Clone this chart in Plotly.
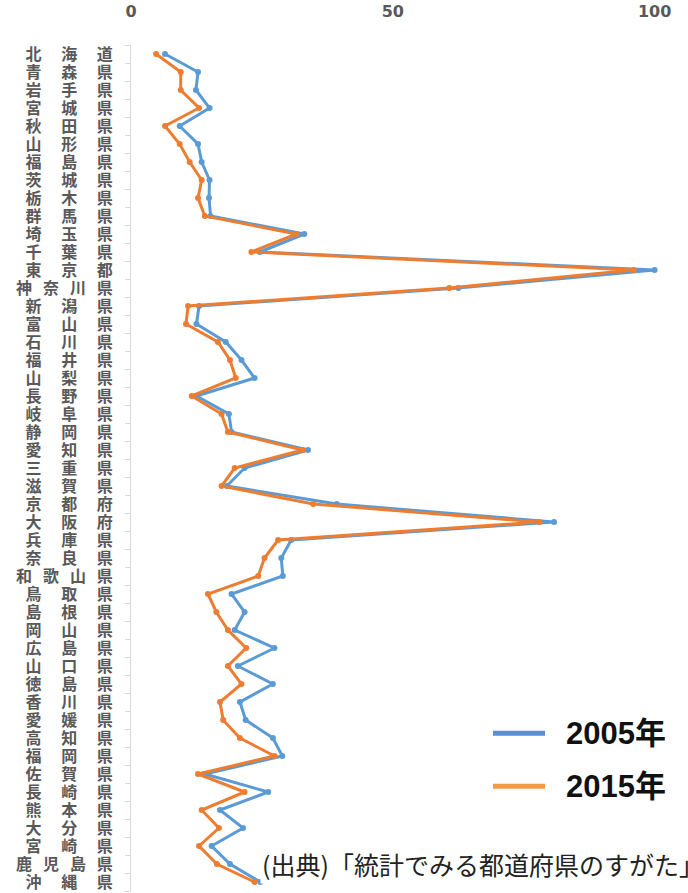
import plotly.graph_objects as go

# 都道府県（北から順）
prefectures = [
    "北海道", "青森県", "岩手県", "宮城県", "秋田県", "山形県", "福島県",
    "茨城県", "栃木県", "群馬県", "埼玉県", "千葉県", "東京都", "神奈川県",
    "新潟県", "富山県", "石川県", "福井県", "山梨県", "長野県", "岐阜県",
    "静岡県", "愛知県", "三重県", "滋賀県", "京都府", "大阪府", "兵庫県",
    "奈良県", "和歌山県", "鳥取県", "島根県", "岡山県", "広島県", "山口県",
    "徳島県", "香川県", "愛媛県", "高知県", "福岡県", "佐賀県", "長崎県",
    "熊本県", "大分県", "宮崎県", "鹿児島県", "沖縄県",
]

values_2005 = [
    6.5, 12.8, 12.4, 15.0, 9.3, 12.8, 13.5, 15.0, 14.9, 15.2,
    33.1, 24.6, 100.0, 62.5, 13.0, 12.5, 18.1, 21.1, 23.6, 12.5,
    18.7, 19.2, 33.8, 21.7, 18.3, 39.3, 80.8, 30.6, 28.7, 29.0,
    19.2, 21.7, 19.8, 27.4, 20.4, 27.1, 20.8, 21.9, 27.1, 28.9,
    14.1, 26.2, 17.0, 21.4, 15.4, 18.9, 24.7,
]

values_2015 = [
    4.8, 9.5, 9.5, 13.0, 6.5, 9.3, 11.2, 13.5, 12.8, 14.1,
    31.6, 23.0, 96.0, 60.8, 10.9, 10.5, 16.6, 18.9, 20.0, 11.6,
    17.3, 18.5, 32.8, 19.8, 17.3, 34.8, 78.0, 28.1, 25.5, 24.3,
    14.7, 16.3, 18.5, 22.0, 18.5, 21.1, 17.0, 17.6, 20.8, 27.4,
    12.8, 21.7, 13.5, 16.8, 13.0, 16.4, 23.6,
]

x_ticks = [0, 50, 100]
series_names = ["2005年", "2015年"]
source_note = "(出典)「統計でみる都道府県のすがた」"

BLUE = "#5B9BD5"
ORANGE = "#ED7D31"
LEGEND_BLUE = "#5A8FD6"
LEGEND_ORANGE = "#F39A48"
GRAY = "#595959"

W, H = 688, 893
M_L, M_R, M_T, M_B = 131, 2, 45, 0
PLOT_W = W - M_L - M_R
PLOT_H = H - M_T - M_B


def px_to_paper(px, py):
    return (px - M_L) / PLOT_W, (H - M_B - py) / PLOT_H


def spaced(name):
    # spread each name across the same label width
    gap = "\u3000\u00a0" if len(name) == 3 else "\u00a0\u00a0\u00a0"
    return gap.join(name)


fig = go.Figure()
for name, vals, color in [(series_names[0], values_2005, BLUE),
                          (series_names[1], values_2015, ORANGE)]:
    fig.add_trace(go.Scatter(
        x=vals, y=prefectures, name=name, mode="lines+markers",
        line=dict(color=color, width=3),
        marker=dict(color=color, size=6),
        showlegend=False,
    ))

# legend drawn as line samples with labels
shapes, annotations = [], []
for i, (name, color) in enumerate(zip(series_names, [LEGEND_BLUE, LEGEND_ORANGE])):
    y_px = 735 + 53 * i
    x0, y0 = px_to_paper(493, y_px)
    x1, _ = px_to_paper(545, y_px)
    shapes.append(dict(type="line", xref="paper", yref="paper",
                       x0=x0, x1=x1, y0=y0, y1=y0,
                       line=dict(color=color, width=5)))
    tx, _ = px_to_paper(564, y_px)
    annotations.append(dict(
        text=name, xref="paper", yref="paper", x=tx, y=y0,
        xanchor="left", yanchor="middle", showarrow=False,
        font=dict(family="Liberation Sans, Noto Sans CJK JP", size=31,
                  color="#111111", weight="bold"),
    ))

sx, sy = px_to_paper(260, 866)
annotations.append(dict(
    text=source_note, xref="paper", yref="paper", x=sx, y=sy,
    xanchor="left", yanchor="middle", showarrow=False,
    font=dict(family="Noto Sans CJK JP", size=25, color="#222222"),
    bgcolor="white",
))

fig.update_layout(
    width=W, height=H,
    margin=dict(l=M_L, r=M_R, t=M_T, b=M_B),
    paper_bgcolor="white", plot_bgcolor="white",
    showlegend=False,
    shapes=shapes, annotations=annotations,
)

fig.update_xaxes(
    range=[0, 106], side="top", tickvals=x_ticks,
    showgrid=False, zeroline=False, showline=False, ticks="",
    ticklabelstandoff=24,
    tickfont=dict(family="DejaVu Sans", size=16, color=GRAY, weight="bold"),
)
fig.update_yaxes(
    type="category", range=[len(prefectures) - 0.5, -0.5],
    tickvals=prefectures, ticktext=[spaced(p) for p in prefectures],
    showgrid=False, zeroline=False,
    showline=True, linecolor="#d9d9d9", linewidth=1,
    ticks="outside", tickson="boundaries", ticklen=5, tickcolor="#d9d9d9",
    ticklabelstandoff=14,
    tickfont=dict(family="Noto Sans CJK JP", size=16, color=GRAY, weight="bold"),
)

fig.write_html("out.html")
